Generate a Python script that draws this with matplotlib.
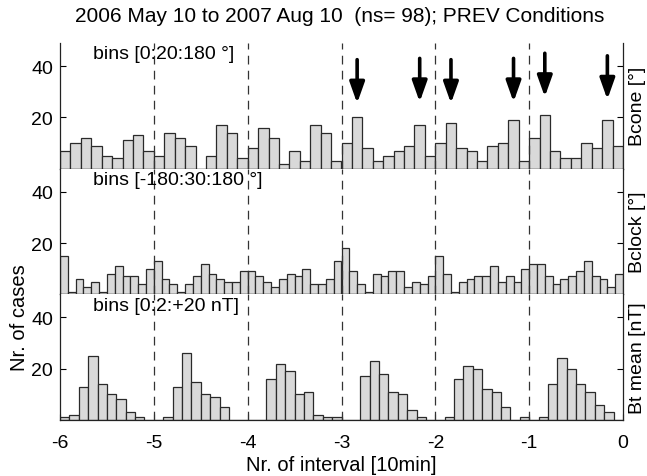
import matplotlib
matplotlib.use("Agg")
import matplotlib.pyplot as plt
import numpy as np

plt.rcParams["font.family"] = ["Liberation Sans", "DejaVu Sans"]

# counts per bin, 6 intervals of 10 min each (from -6 to 0)
bcone_counts = [
    7, 10, 12, 9, 5, 4, 11, 13, 7,
    5, 14, 12, 9, 0, 5, 17, 14, 4,
    8, 16, 12, 2, 7, 3, 17, 14, 3,
    10, 20, 8, 3, 5, 7, 9, 17, 5,
    10, 18, 8, 7, 3, 9, 10, 19, 3,
    12, 21, 7, 4, 4, 10, 8, 19, 9,
]
bclock_counts = [
    15, 1, 6, 3, 5, 1, 8, 11, 7, 7, 4, 10,
    13, 6, 4, 1, 4, 7, 12, 8, 6, 5, 5, 9,
    9, 7, 5, 3, 6, 8, 7, 10, 4, 4, 6, 13,
    18, 9, 4, 1, 8, 7, 9, 9, 3, 5, 4, 7,
    15, 8, 1, 5, 6, 7, 7, 11, 5, 7, 5, 10,
    12, 12, 7, 4, 6, 7, 9, 13, 7, 6, 3, 8,
]
bt_counts = [
    1, 2, 13, 25, 14, 10, 8, 3, 1, 0,
    0, 1, 13, 26, 15, 10, 9, 5, 0, 0,
    0, 0, 16, 22, 19, 10, 11, 2, 1, 1,
    0, 0, 17, 23, 18, 11, 10, 4, 1, 0,
    0, 1, 16, 21, 20, 12, 11, 5, 0, 1,
    0, 1, 14, 24, 20, 14, 11, 6, 3, 0,
]

panel_bins = ["bins [0:20:180 °]", "bins [-180:30:180 °]", "bins [0:2:+20 nT]"]
panel_names = ["Bcone [°]", "Bclock [°]", "Bt mean [nT]"]

# arrows over Bcone peaks: (interval start, bin index, tip height)
arrow_interval = [-3, -3, -2, -2, -1, -1]
arrow_bin = [1, 7, 1, 7, 1, 7]
arrow_tip = [25.5, 26, 25.5, 26, 28, 27]

title = "2006 May 10 to 2007 Aug 10  (ns= 98); PREV Conditions"
n_intervals = 6

fig = plt.figure(figsize=(6.47, 4.77), dpi=100)
left, right = 60 / 647, 623 / 647
bottom, top = 1 - 421 / 477, 1 - 44 / 477
h = (top - bottom) / 3

axes = []
for i, counts in enumerate([bcone_counts, bclock_counts, bt_counts]):
    ax = fig.add_axes([left, top - (i + 1) * h, right - left, h])
    axes.append(ax)
    nb = len(counts) // n_intervals
    width = 1.0 / nb
    lefts = np.array([-6 + k + j * width for k in range(n_intervals) for j in range(nb)])
    ax.bar(lefts, counts, width=width, align="edge", color="#d9d9d9",
           edgecolor="#2a2a2a", linewidth=0.9, zorder=2)
    for xv in range(-5, 0):
        ax.axvline(xv, color="#333333", linestyle=(0, (7, 5)), linewidth=0.9, zorder=3)
    ax.set_xlim(-6, 0)
    ax.set_ylim(0, 49)
    ax.set_yticks([20, 40])
    ax.spines["top"].set_visible(False)
    for s in ["left", "right", "bottom"]:
        ax.spines[s].set_linewidth(0.9)
        ax.spines[s].set_color("#222222")
    ax.tick_params(axis="y", direction="in", length=4, labelsize=14, right=True, pad=5)
    ax.tick_params(axis="x", direction="in", length=4, labelsize=14, pad=10)
    ax.text(0.059, 0.915, panel_bins[i], transform=ax.transAxes, fontsize=14,
            ha="left", va="center", zorder=4)
    ax.text(1.01, 0.5, panel_names[i], transform=ax.transAxes, fontsize=14,
            rotation=90, ha="left", va="center")
    if i < 2:
        ax.tick_params(axis="x", labelbottom=False, bottom=False)

axes[2].set_xticks(range(-6, 1))
axes[2].set_xticklabels(["-6", "-5", "-4", "-3", "-2", "-1", "0"])
axes[2].set_xlabel("Nr. of interval [10min]", fontsize=14.5, labelpad=3)

nb0 = len(bcone_counts) // n_intervals
for k, b, tip in zip(arrow_interval, arrow_bin, arrow_tip):
    xc = k + (b + 0.5) / nb0
    axes[0].annotate("", xy=(xc, tip), xytext=(xc, tip + 17),
                     arrowprops=dict(arrowstyle="-|>,head_length=0.9,head_width=0.32",
                                     color="black", lw=2.6, mutation_scale=14,
                                     shrinkA=0, shrinkB=0), zorder=5)

fig.text(20 / 647, 1 - 318 / 477, "Nr. of cases", rotation=90, fontsize=14.5,
         ha="center", va="center")
fig.text(340 / 647, 1 - 16 / 477, title, fontsize=15, ha="center", va="center")

fig.savefig("out.png", dpi=100)
